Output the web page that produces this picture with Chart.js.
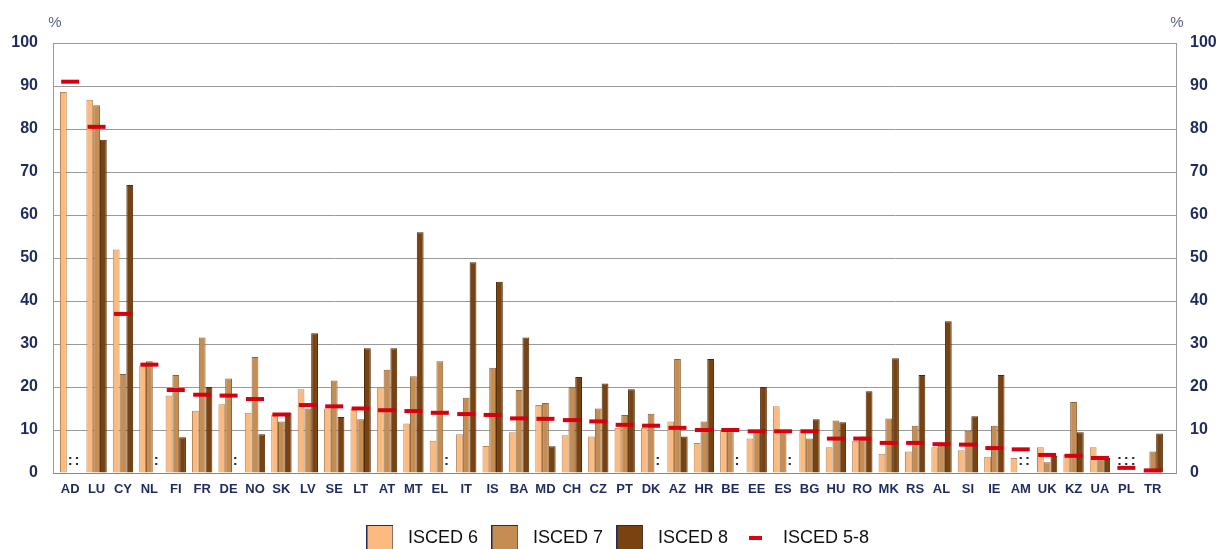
<!DOCTYPE html>
<html>
<head>
<meta charset="utf-8">
<script src="https://cdn.jsdelivr.net/npm/chart.js@4/dist/chart.umd.min.js"></script>
<style>
  html, body { margin: 0; padding: 0; background: #fff; }
  #wrap { width: 1218px; height: 549px; position: relative; }
</style>
</head>
<body>
<div id="wrap"><canvas id="chart-isced"></canvas></div>
<script>
// country codes on the x axis
var countries = ["AD","LU","CY","NL","FI","FR","DE","NO","SK","LV","SE","LT","AT","MT","EL","IT","IS","BA","MD","CH","CZ","PT","DK","AZ","HR","BE","EE","ES","BG","HU","RO","MK","RS","AL","SI","IE","AM","UK","KZ","UA","PL","TR"];

// null = data not available (":")
var isced6 = [88.6,86.8,52,25,18,14.5,16,14,13.5,19.5,15,15,20,11.5,7.5,9,6.3,9.5,15.8,8.8,8.5,10.5,10.5,12,7,10,8,15.5,10,6,7.5,4.5,5,6,5.3,3.8,3.5,6,4.2,6,null,0.3];
var isced7 = [null,85.5,23,26,22.8,31.5,22,27,12,15,21.5,12.5,24,22.5,26,17.5,24.5,19.3,16.3,20,15,13.5,13.8,26.5,12,10,10,9.8,8,12.2,8.5,12.7,11,6.5,9.8,11,null,2.5,16.5,3.5,null,5];
var isced8 = [null,77.5,67,null,8.3,20,null,9,14,32.5,13,29,29,56,null,49,44.5,31.5,6.2,22.3,20.8,19.5,null,8.5,26.5,null,20,null,12.5,11.8,19,26.7,22.8,35.3,13.2,22.8,null,4,9.5,3.5,null,9.2];
var isced58 = [91,80.5,37,25.2,19.3,18.2,18,17.2,13.6,15.8,15.5,15,14.6,14.4,14,13.7,13.5,12.7,12.6,12.3,12,11.2,11,10.5,10,10,9.7,9.7,9.7,8,8,7,7,6.7,6.6,5.8,5.5,4.2,4,3.5,1.2,0.6];

var yTicks = [0,10,20,30,40,50,60,70,80,90,100];

var navy = "#1f2b5e";
var gridCol = "#9a9a9a";

// legend swatches: filled squares with a thin navy outline, and a short red dash
function swatch(fill) {
  var c = document.createElement("canvas");
  c.width = 27; c.height = 26;
  var g = c.getContext("2d");
  g.fillStyle = fill;
  g.fillRect(0, 0, 27, 26);
  g.strokeStyle = "#1f2b5e";
  g.lineWidth = 1;
  g.strokeRect(0.5, 0.5, 26, 25);
  return c;
}
var dash = document.createElement("canvas");
dash.width = 13; dash.height = 4;
var dctx = dash.getContext("2d");
dctx.fillStyle = "#e0000f";
dctx.fillRect(0, 0, 13, 4);

// draws ":" where a value is not available, and the "%" unit labels
var extrasPlugin = {
  id: "extras",
  afterLayout: function(chart) {
    // push the legend a little lower, like in the original
    chart.legend.top += 8;
    chart.legend.bottom += 8;
  },
  afterDatasetsDraw: function(chart) {
    var ctx = chart.ctx;
    var area = chart.chartArea;
    ctx.save();
    ctx.fillStyle = "#2a2a3a";
    ctx.font = "bold 15px 'Liberation Sans', Arial";
    ctx.textAlign = "center";
    ctx.textBaseline = "middle";
    [0,1,2].forEach(function(di) {
      var meta = chart.getDatasetMeta(di);
      var vals = chart.data.datasets[di].data;
      vals.forEach(function(v, i) {
        if (v === null && meta.data[i]) {
          ctx.fillText(":", meta.data[i].x, area.bottom - 12);
        }
      });
    });
    ctx.restore();
  },
  afterDraw: function(chart) {
    var ctx = chart.ctx;
    var area = chart.chartArea;
    ctx.save();
    ctx.fillStyle = "#5d6485";
    ctx.font = "15px 'Liberation Sans', Arial";
    ctx.textAlign = "center";
    ctx.textBaseline = "middle";
    ctx.fillText("%", area.left + 2, area.top - 20);
    ctx.fillText("%", area.right + 1, area.top - 20);
    ctx.restore();
  }
};

var ctx = document.getElementById("chart-isced").getContext("2d");
var chart = new Chart(ctx, {
  type: "bar",
  data: {
    labels: countries,
    datasets: [{
      label: "ISCED 6",
      data: isced6,
      backgroundColor: "#fdba7f",
      borderColor: "#b9865a",
      borderWidth: 1,
      order: 1
    },
    {
      label: "ISCED 7",
      data: isced7,
      backgroundColor: "#c58d52",
      borderColor: "#8c6238",
      borderWidth: 1,
      order: 1
    },
    {
      label: "ISCED 8",
      data: isced8,
      backgroundColor: "#794311",
      borderColor: "#4e2a08",
      borderWidth: 1,
      order: 1
    },
    {
      type: "line",
      label: "ISCED 5-8",
      data: isced58,
      showLine: false,
      pointStyle: "line",
      pointRadius: 9,
      pointHoverRadius: 9,
      borderWidth: 4,
      borderColor: "#d4000f",
      backgroundColor: "#d4000f",
      order: 0
    }]
  },
  options: {
    responsive: true,
    maintainAspectRatio: false,
    animation: false,
    layout: { padding: { left: 12, right: 0, top: 43, bottom: 0 } },
    datasets: {
      bar: { categoryPercentage: 0.77, barPercentage: 1.0 }
    },
    plugins: {
      tooltip: { enabled: false },
      legend: {
        position: "bottom",
        labels: {
          usePointStyle: true,
          pointStyleWidth: 38,
          boxHeight: 26,
          padding: 8,
          color: "#111",
          font: { family: "'Liberation Sans', Arial", size: 18 },
          generateLabels: function(chart) {
            return chart.data.datasets.map(function(ds, i) {
              var isLine = ds.type === "line";
              return {
                text: ds.label,
                datasetIndex: i,
                fillStyle: ds.backgroundColor,
                strokeStyle: ds.borderColor,
                lineWidth: 0,
                pointStyle: isLine ? dash : swatch(ds.backgroundColor),
                hidden: false,
                fontColor: "#111"
              };
            });
          }
        }
      }
    },
    scales: {
      x: {
        afterFit: function(axis) { axis.height = 40; },
        // the groups sit a bit off-centre inside the frame in the original
        afterUpdate: function(axis) {
          axis._startValue -= 0.15;
          axis._valueRange += 0.53;
        },
        grid: { display: false, drawTicks: false },
        border: { display: true, color: "#7f8799", width: 1 },
        ticks: {
          color: navy,
          autoSkip: false,
          maxRotation: 0,
          padding: 9,
          font: { family: "'Liberation Sans', Arial", size: 13, weight: "bold" }
        }
      },
      y: {
        position: "left",
        min: 0,
        max: 100,
        afterFit: function(axis) { axis.width = 41; },
        afterBuildTicks: function(axis) {
          axis.ticks = yTicks.map(function(v) { return { value: v }; });
        },
        grid: { color: gridCol, lineWidth: 1, drawTicks: false },
        border: { display: true, color: gridCol, width: 1 },
        ticks: {
          color: navy,
          padding: 15,
          font: { family: "'Liberation Sans', Arial", size: 16, weight: "bold" }
        }
      },
      y2: {
        position: "right",
        min: 0,
        max: 100,
        afterFit: function(axis) { axis.width = 42; },
        afterBuildTicks: function(axis) {
          axis.ticks = yTicks.map(function(v) { return { value: v }; });
        },
        grid: { display: false, drawTicks: false },
        border: { display: true, color: gridCol, width: 1 },
        ticks: {
          color: navy,
          padding: 14,
          font: { family: "'Liberation Sans', Arial", size: 16, weight: "bold" }
        }
      }
    }
  },
  plugins: [extrasPlugin]
});
</script>
</body>
</html>
